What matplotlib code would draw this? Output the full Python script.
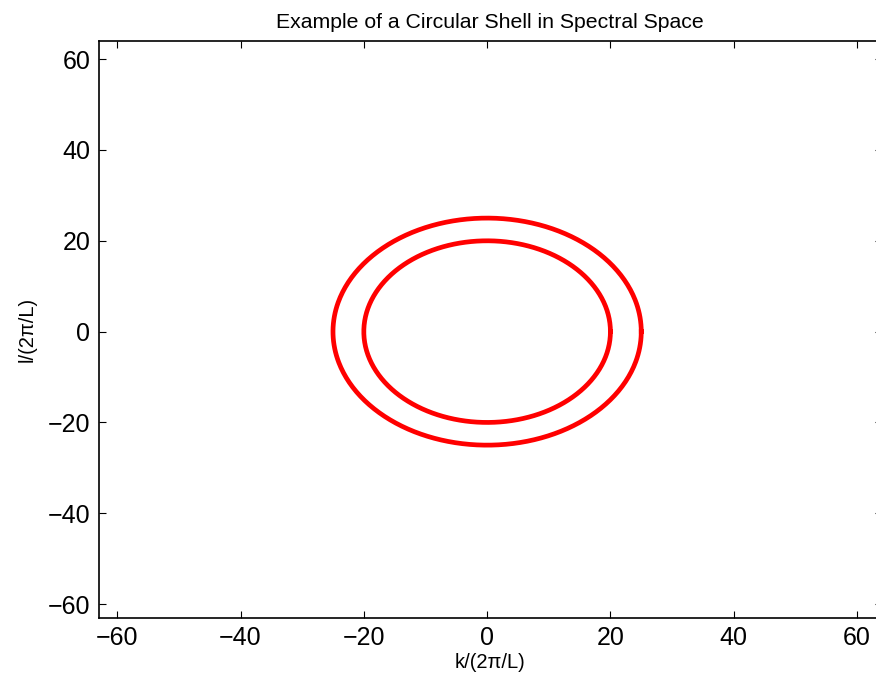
import numpy as np
import matplotlib
matplotlib.use("Agg")
import matplotlib.pyplot as plt

plt.rcParams['font.family'] = ['Liberation Sans', 'DejaVu Sans']

# Shell boundaries (in units of 2*pi/L)
shell_radii = [20, 25]
x_limits = [-63, 64]
y_limits = [-63, 64]
tick_values = [-60, -40, -20, 0, 20, 40, 60]

fig = plt.figure(figsize=(8.76, 6.85), dpi=100)
ax = fig.add_axes([98.7 / 876, 1 - 617.7 / 685, (881.7 - 98.7) / 876, (617.7 - 41) / 685])

theta = np.linspace(0, 2 * np.pi, 400)
for r in shell_radii:
    ax.plot(r * np.cos(theta), r * np.sin(theta), color='#ff0000', lw=3.4)

ax.set_xlim(x_limits)
ax.set_ylim(y_limits)
ax.set_xticks(tick_values)
ax.set_yticks(tick_values)
ax.tick_params(direction='in', length=5, width=0.8, top=True, right=True,
               labelsize=18, pad=6)
for s in ax.spines.values():
    s.set_linewidth(1.2)

ax.set_title('Example of a Circular Shell in Spectral Space', fontsize=15.3, pad=9)
ax.set_xlabel('k/(2\u03c0/L)', fontsize=14.5, labelpad=2)
ax.set_ylabel('l/(2\u03c0/L)', fontsize=14.5, labelpad=8)

fig.savefig('out.png', dpi=100)
